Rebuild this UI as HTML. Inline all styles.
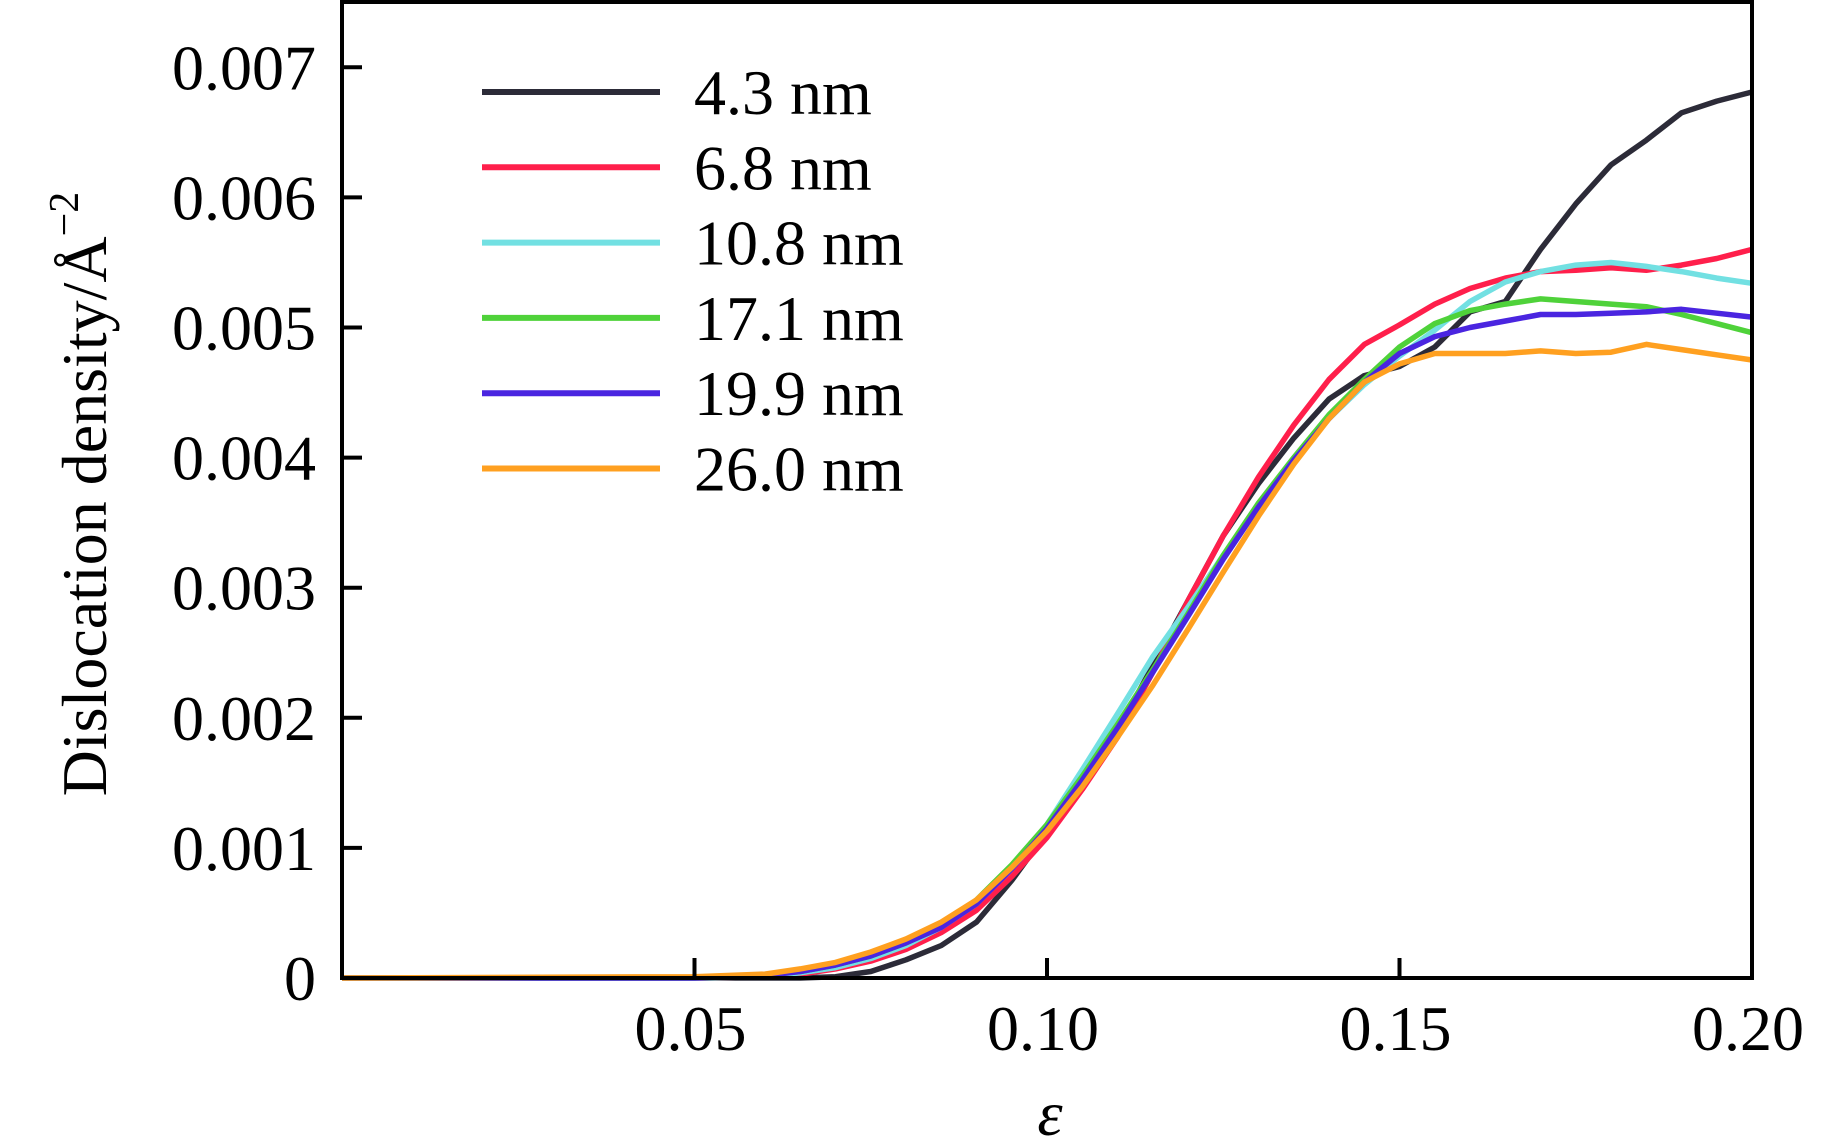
<!DOCTYPE html>
<html><head><meta charset="utf-8"><style>
html,body{margin:0;padding:0;background:#fff;}
svg{display:block;font-family:"Liberation Serif",serif;}
</style></head><body>
<svg id="chart" width="1843" height="1145" viewBox="0 0 1843 1145">
<g id="series"></g>
<g id="axes"></g>
<g id="legend"></g>
<text transform="translate(106,494) rotate(-90)" text-anchor="middle" font-size="64">Dislocation density/Å<tspan dy="-28" font-size="42">−2</tspan></text>
<text x="1050" y="1135" text-anchor="middle" font-size="64" font-style="italic">ε</text>
</svg>
<script>
const xValues = [0,0.05,0.06,0.065,0.07,0.075,0.08,0.085,0.09,0.095,0.10,0.105,0.11,0.115,0.12,0.125,0.13,0.135,0.14,0.145,0.15,0.155,0.16,0.165,0.17,0.175,0.18,0.185,0.19,0.195,0.20];
const seriesNames = ["4.3 nm","6.8 nm","10.8 nm","17.1 nm","19.9 nm","26.0 nm"];
const s43 = [0,0,0,0,0.01,0.05,0.14,0.25,0.43,0.75,1.12,1.5,1.9,2.4,2.9,3.4,3.8,4.15,4.45,4.63,4.7,4.85,5.12,5.2,5.6,5.95,6.25,6.44,6.65,6.74,6.81];
const s68 = [0,0,0.01,0.03,0.07,0.13,0.22,0.35,0.52,0.78,1.08,1.45,1.85,2.35,2.9,3.4,3.85,4.25,4.6,4.87,5.02,5.18,5.3,5.38,5.43,5.44,5.46,5.44,5.48,5.53,5.6];
const s108 = [0,0,0.01,0.04,0.08,0.15,0.25,0.39,0.57,0.84,1.18,1.6,2.03,2.47,2.85,3.25,3.62,3.97,4.3,4.56,4.78,4.98,5.2,5.35,5.43,5.48,5.5,5.47,5.43,5.38,5.34];
const s171 = [0,0,0.02,0.05,0.1,0.17,0.27,0.4,0.6,0.87,1.18,1.55,1.95,2.37,2.8,3.25,3.65,4.0,4.33,4.6,4.85,5.03,5.13,5.18,5.22,5.2,5.18,5.16,5.1,5.03,4.96];
const s199 = [0,0,0.02,0.05,0.1,0.17,0.27,0.39,0.57,0.84,1.15,1.52,1.92,2.35,2.78,3.22,3.62,3.98,4.3,4.58,4.8,4.93,5.0,5.05,5.1,5.1,5.11,5.12,5.14,5.11,5.08];
const s260 = [0,0.01,0.03,0.07,0.12,0.2,0.3,0.43,0.6,0.85,1.13,1.47,1.85,2.25,2.68,3.12,3.55,3.95,4.3,4.58,4.72,4.8,4.8,4.8,4.82,4.8,4.81,4.87,4.83,4.79,4.75];
const yTickValues = [0,1,2,3,4,5,6,7];
const yTickLabels = ["0","0.001","0.002","0.003","0.004","0.005","0.006","0.007"];
const xTickValues = [0.05,0.10,0.15,0.20];
const xTickLabels = ["0.05","0.10","0.15","0.20"];

const NS="http://www.w3.org/2000/svg";
const L=342,R=1752,B=978,PX=7050,PY=130.1;
const sx=v=>L+v*PX;
const sy=v=>B-v*PY;
const allSeries=[s43,s68,s108,s171,s199,s260];
const colors=["#2c2b38","#ff1f4b","#72e0e2","#4fd23a","#4a25e0","#ffa020"];
const keys=["4-3nm","6-8nm","10-8nm","17-1nm","19-9nm","26-0nm"];
function mk(tag,attrs,parent){const e=document.createElementNS(NS,tag);for(const k in attrs)e.setAttribute(k,attrs[k]);parent.appendChild(e);return e;}
const gS=document.getElementById('series');
allSeries.forEach((s,i)=>{
  const d=s.map((v,j)=>(j?'L':'M')+sx(xValues[j]).toFixed(1)+','+sy(v).toFixed(1)).join(' ');
  const p=mk('path',{d:d,fill:'none',stroke:colors[i],'stroke-width':5.5,'stroke-linejoin':'round'},gS);
  
  
});
const gA=document.getElementById('axes');
const frame=mk('path',{d:`M${L},0 L${L},${B} L${R},${B} L${R},0`,fill:'none',stroke:'#000','stroke-width':4},gA);


const topLine=mk('line',{x1:L,y1:2,x2:R,y2:2,stroke:'#000','stroke-width':4},gA);


yTickValues.forEach((v,i)=>{
  const t=mk('line',{x1:L,x2:L+20,y1:sy(v),y2:sy(v),stroke:'#000','stroke-width':4},gA);
  
  
  const tx=mk('text',{x:316,y:sy(v)+22,'text-anchor':'end','font-size':64},gA);
  tx.textContent=yTickLabels[i];
  
  
});
xTickValues.forEach((v,i)=>{
  const t=mk('line',{x1:sx(v),x2:sx(v),y1:B,y2:B-20,stroke:'#000','stroke-width':4},gA);
  
  
  const tx=mk('text',{x:sx(v)-4,y:1050,'text-anchor':'middle','font-size':64},gA);
  tx.textContent=xTickLabels[i];
  
  
});
const gL=document.getElementById('legend');
seriesNames.forEach((n,i)=>{
  const y=92+i*75.3;
  const g=mk('g',{},gL);
  
  
  const ln=mk('line',{x1:482,x2:660,y1:y,y2:y,stroke:colors[i],'stroke-width':6},g);
  
  
  const tx=mk('text',{x:694,y:y+22,'font-size':64},g);
  tx.textContent=n;
  
  
});
</script>
</body></html>
